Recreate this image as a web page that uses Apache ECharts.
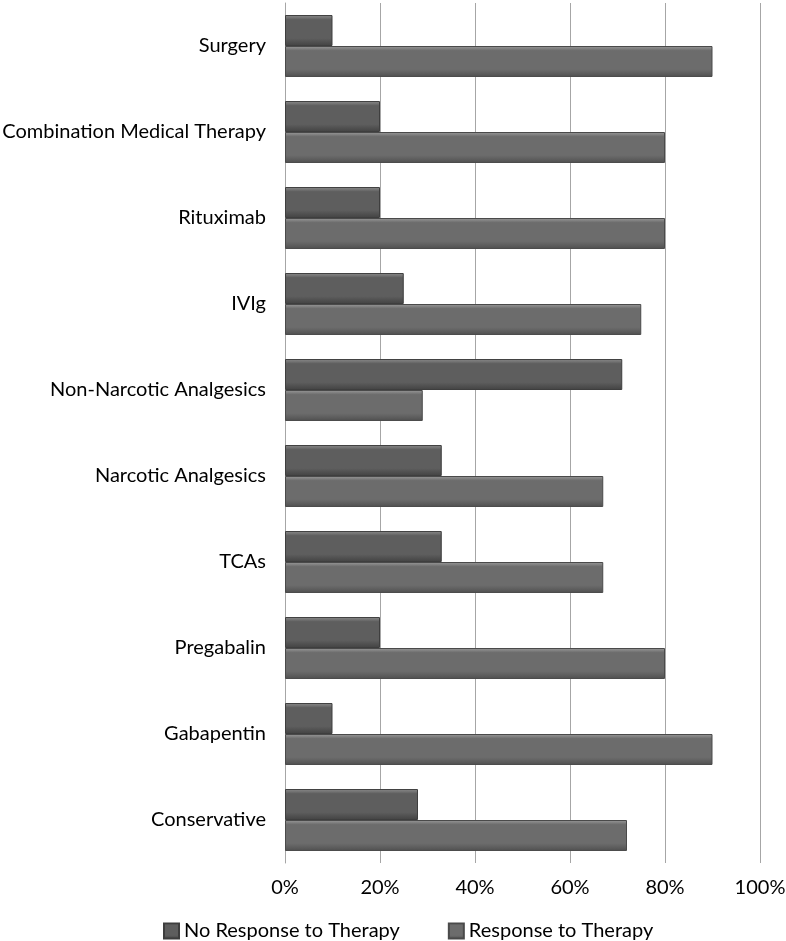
<!DOCTYPE html>
<html>
<head>
<meta charset="utf-8">
<script src="https://cdn.jsdelivr.net/npm/echarts@6/dist/echarts.min.js"></script>
<style>
  html, body { margin: 0; padding: 0; background: #fff; }
  #chart { width: 786px; height: 941px; }
</style>
</head>
<body>
<div id="chart"></div>
<script>
// categories listed bottom to top (category axis starts at the bottom)
const categories = [
  'Conservative', 'Gabapentin', 'Pregabalin', 'TCAs', 'Narcotic Analgesics',
  'Non-Narcotic Analgesics', 'IVIg', 'Rituximab', 'Combination Medical Therapy', 'Surgery'
]
const noResponse = [28, 10, 20, 33, 33, 71, 25, 20, 20, 10]
const response = [72, 90, 80, 67, 67, 29, 75, 80, 80, 90]
const xTicks = [0, 20, 40, 60, 80, 100]

const barFill = (top, mid, bottom) => new echarts.graphic.LinearGradient(0, 0, 0, 1, [
  { offset: 0, color: top },
  { offset: 0.15, color: mid },
  { offset: 0.75, color: mid },
  { offset: 1, color: bottom }
])

const chart = echarts.init(document.getElementById('chart'))
const font = 'Lato, Open Sans, sans-serif'

chart.setOption({
  animation: false,
  textStyle: { fontFamily: font },
  grid: { left: 285, right: 26, top: 3, bottom: 78, containLabel: false, outerBoundsMode: 'none' },
  legend: {
    top: 916,
    left: 158,
    itemWidth: 15,
    itemHeight: 15,
    itemGap: 48,
    icon: 'rect',
    textStyle: { fontSize: 20, color: '#000', fontFamily: font },
    data: ['No Response to Therapy', 'Response to Therapy']
  },
  xAxis: {
    type: 'value',
    min: xTicks[0],
    max: xTicks[xTicks.length - 1],
    interval: 20,
    axisLine: { show: false },
    axisTick: { show: false },
    splitLine: { show: true, lineStyle: { color: '#a6a6a6', width: 1 } },
    axisLabel: { formatter: '{value}%', fontSize: 20, color: '#000', margin: 15 }
  },
  yAxis: {
    type: 'category',
    data: categories,
    axisLine: { show: true, lineStyle: { color: '#a6a6a6' } },
    axisTick: { show: false },
    axisLabel: { fontSize: 20, color: '#000', margin: 19 }
  },
  series: [
    {
      name: 'No Response to Therapy',
      type: 'bar',
      data: noResponse,
      barGap: '0%',
      barCategoryGap: '28%',
      itemStyle: { color: barFill('#8e8e8e', '#5e5e5e', '#424242'), borderColor: '#3e3e3e', borderWidth: 1 }
    },
    {
      name: 'Response to Therapy',
      type: 'bar',
      data: response,
      barGap: '0%',
      barCategoryGap: '28%',
      itemStyle: { color: barFill('#9a9a9a', '#6c6c6c', '#505050'), borderColor: '#4a4a4a', borderWidth: 1 }
    }
  ]
})
</script>
</body>
</html>
